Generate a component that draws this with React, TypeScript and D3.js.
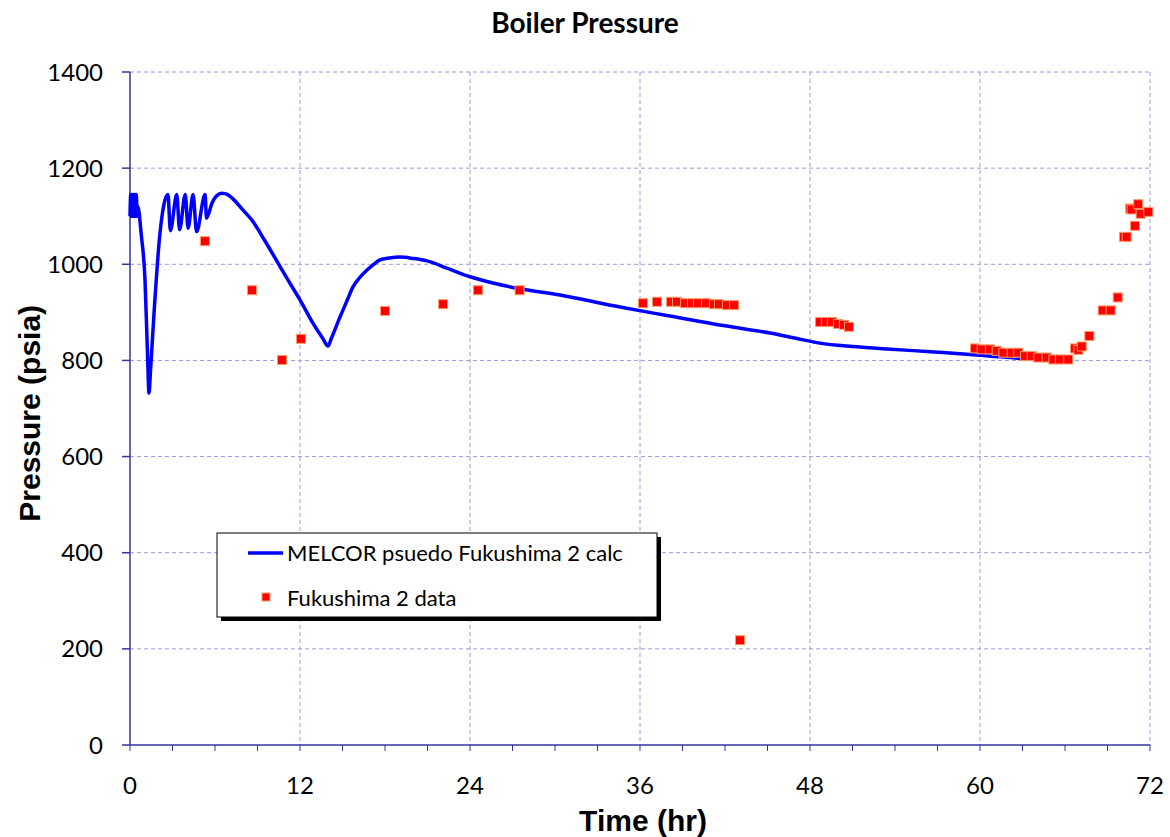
import React from "react";
import * as d3 from "d3";

const calcTime = [
  0, 0.05, 0.1, 0.15, 0.2, 0.25, 0.3, 0.35, 0.4, 0.45, 0.5, 0.55,
  0.8, 1.06, 1.25, 1.34, 1.45, 1.7, 2.1, 2.68, 2.85, 3.3, 3.5, 3.9, 4.1, 4.45, 4.7, 5.3, 5.4,
  5.8, 6.1, 6.5, 6.9, 7.3, 8.0, 8.6, 9.5, 10.4, 11.2, 12.0, 12.9, 13.6, 13.98,
  14.2, 14.82, 15.3, 15.74, 16.2, 16.73, 17.2, 17.65, 18.3, 19.06, 20.0, 20.96,
  22.38, 24.0, 25.62, 27.53, 30.35, 34.59, 38.0, 42.0, 45.18, 47.0, 48.7,
  51.0, 53.43, 56.5, 60.0, 63.3, 65.0,
];
const calcPressure = [
  1100, 1145, 1100, 1145, 1100, 1145, 1100, 1145, 1100, 1145, 1100, 1120,
  1060, 967, 800, 732, 780, 900, 1060, 1145, 1070, 1145, 1072, 1145, 1075, 1145, 1068, 1145, 1096,
  1128, 1142, 1148, 1145, 1135, 1112, 1092, 1050, 1005, 965, 926, 878, 846, 830,
  845, 890, 923, 953, 972, 988, 1000, 1009, 1013, 1015, 1012, 1007,
  992, 974, 961, 949, 936, 911, 893, 872, 857, 846, 836,
  829, 824, 818, 811, 803, 800,
];

const dataTime = [
  5.29, 8.61, 10.73, 12.07, 18.0, 22.1, 24.56, 27.5,
  36.21, 37.2, 38.19, 38.61, 39.18, 39.67, 40.09, 40.66, 41.22, 41.57, 42.14, 42.64,
  43.06,
  48.7, 49.13, 49.55, 49.98, 50.4, 50.75,
  59.65, 60.12, 60.7, 61.18, 61.65, 62.24, 62.7, 63.18, 63.65, 64.12, 64.7, 65.18, 65.65, 66.23,
  66.7, 66.94, 67.18, 67.72, 68.66, 69.22, 69.72, 70.16, 70.35, 70.94, 70.59, 70.7, 71.17, 71.34, 71.88,
];
const dataPressure = [
  1048, 946, 801, 845, 903, 917, 946, 946,
  919, 922, 922, 922, 919, 919, 919, 919, 917, 917, 915, 915,
  218,
  880, 880, 880, 876, 874, 870,
  825, 823, 823, 820, 816, 816, 816, 809, 809, 806, 806, 802, 802, 802,
  825, 822, 829, 851, 904, 904, 931, 1057, 1057, 1080, 1116, 1114, 1125, 1105, 1109,
];

const xTicks = [0, 12, 24, 36, 48, 60, 72];
const xMinorTicks = d3.range(0, 73, 3);
const yTicks = [0, 200, 400, 600, 800, 1000, 1200, 1400];

const titleText = "Boiler Pressure";
const xTitle = "Time (hr)";
const yTitle = "Pressure (psia)";
const legendLine = "MELCOR psuedo Fukushima 2 calc";
const legendData = "Fukushima 2 data";

export default function App() {
  const W = 1170, H = 837;
  const left = 130, right = 1150, top = 72, bottom = 745;
  const x = d3.scaleLinear().domain([0, 72]).range([left, right]);
  const y = d3.scaleLinear().domain([0, 1400]).range([bottom, top]);
  const line = d3
    .line<number>()
    .x((_, i) => x(calcTime[i]))
    .y((d) => y(d))
    .curve(d3.curveMonotoneX);
  const axisColor = "#35359a";
  const gridColor = "#9a9ae0";
  const tickFont = "Lato, 'Open Sans', sans-serif";
  const ms = 9;

  return (
    <svg
      width={W}
      height={H}
      style={{ position: "absolute", left: 0, top: 0, background: "#fff" }}
    >
      <rect x={0} y={0} width={W} height={H} fill="#fff" />
      {/* grid */}
      {yTicks.filter((t) => t > 0).map((t) => (
        <line key={"gy" + t} x1={left} x2={right} y1={y(t)} y2={y(t)} stroke={gridColor} strokeWidth={1} strokeDasharray="4,3" />
      ))}
      {xTicks.filter((t) => t > 0).map((t) => (
        <line key={"gx" + t} x1={x(t)} x2={x(t)} y1={top} y2={bottom} stroke={gridColor} strokeWidth={1} strokeDasharray="4,3" />
      ))}
      {/* axes */}
      <line x1={left} x2={left} y1={top} y2={bottom} stroke={axisColor} strokeWidth={1.5} />
      <line x1={left} x2={right} y1={bottom} y2={bottom} stroke={axisColor} strokeWidth={1.5} />
      {yTicks.map((t) => (
        <line key={"ty" + t} x1={left - 8} x2={left} y1={y(t)} y2={y(t)} stroke={axisColor} strokeWidth={1.5} />
      ))}
      {xMinorTicks.map((t) => (
        <line key={"tx" + t} x1={x(t)} x2={x(t)} y1={bottom} y2={bottom + 6} stroke={axisColor} strokeWidth={1} />
      ))}
      {yTicks.map((t) => (
        <text key={"ly" + t} x={left - 27} y={y(t)} dy="0.36em" textAnchor="end" fontFamily={tickFont} fontSize={24} fill="#000">
          {t}
        </text>
      ))}
      {xTicks.map((t) => (
        <text key={"lx" + t} x={x(t)} y={bottom + 49} textAnchor="middle" fontFamily={tickFont} fontSize={24} fill="#000">
          {t}
        </text>
      ))}
      {/* series */}
      <path d={line(calcPressure) || ""} fill="none" stroke="#0000ff" strokeWidth={3.5} strokeLinejoin="round" />
      {dataPressure.map((p, i) => (
        <rect
          key={"d" + i}
          x={x(dataTime[i]) - ms / 2}
          y={y(p) - ms / 2}
          width={ms}
          height={ms}
          fill="#ff0000"
          stroke="#ff9b66"
          strokeWidth={1}
        />
      ))}
      {/* titles */}
      <text x={585} y={33} textAnchor="middle" fontFamily={tickFont} fontWeight="bold" fontSize={28} fill="#000">
        {titleText}
      </text>
      <text x={643} y={831} textAnchor="middle" fontFamily="'Liberation Sans', Arial, sans-serif" fontWeight="bold" fontSize={30} fill="#000">
        {xTitle}
      </text>
      <text
        transform={`translate(40, ${y(690)}) rotate(-90)`}
        textAnchor="middle"
        fontFamily="'Liberation Sans', Arial, sans-serif"
        fontWeight="bold"
        fontSize={30}
        fill="#000"
      >
        {yTitle}
      </text>
      {/* legend */}
      <rect x={221} y={537} width={440} height={84} fill="#000" />
      <rect x={217} y={533} width={440} height={84} fill="#fff" stroke="#000" strokeWidth={1} />
      <line x1={248} x2={283} y1={553} y2={553} stroke="#0000ff" strokeWidth={3.5} />
      <text x={287} y={553} dy="0.36em" fontFamily={tickFont} fontSize={22} fill="#000">
        {legendLine}
      </text>
      <rect x={262} y={593} width={8} height={8} fill="#ff0000" stroke="#ff9b66" strokeWidth={1} />
      <text x={287} y={598} dy="0.36em" fontFamily={tickFont} fontSize={22} fill="#000">
        {legendData}
      </text>
    </svg>
  );
}
